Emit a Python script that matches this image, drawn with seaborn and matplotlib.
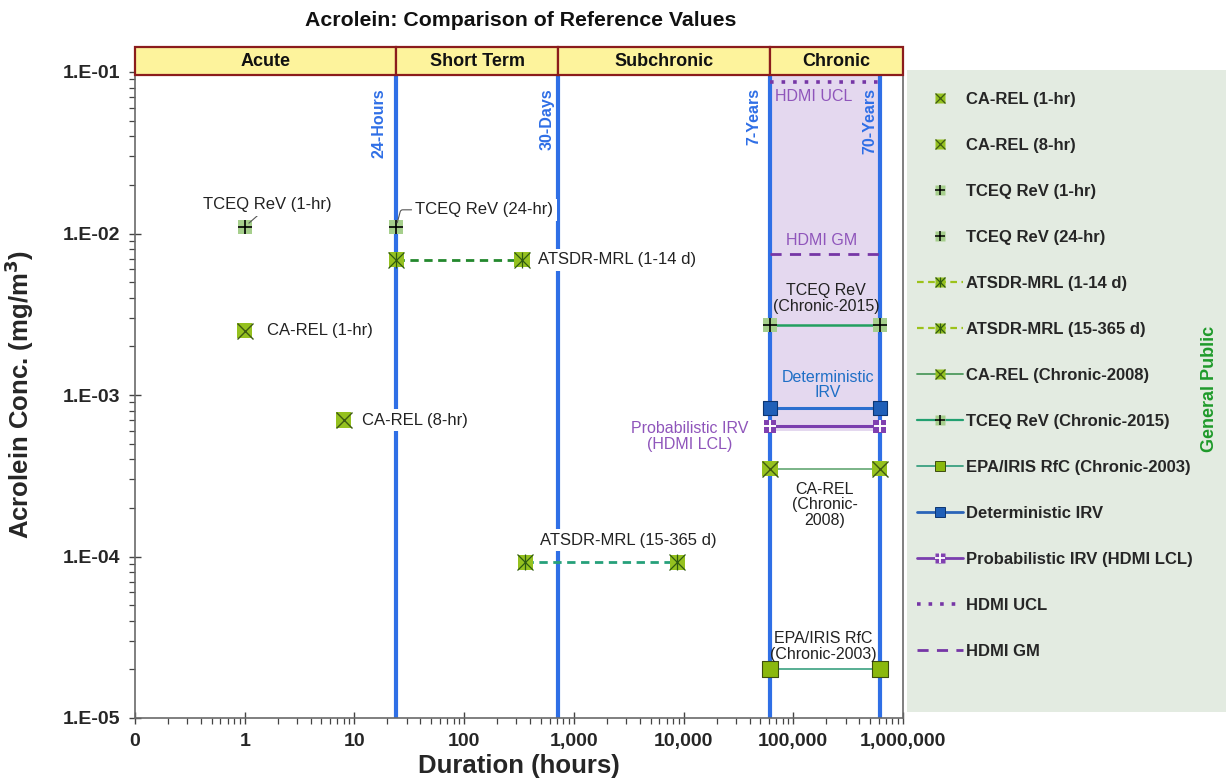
import numpy as np
import pandas as pd
import matplotlib
matplotlib.use("Agg")
import matplotlib.pyplot as plt
import matplotlib.ticker as mticker
from matplotlib.lines import Line2D
from matplotlib.patches import Rectangle
import seaborn as sns

sns.set_theme(style="white")
plt.rcParams["font.family"] = ["Liberation Sans", "DejaVu Sans"]

# ---------------- data ----------------
period_names = ["Acute", "Short Term", "Subchronic", "Chronic"]
period_edges = [0.1, 24, 720, 61320, 1e6]

boundary_hours = [24, 720, 61320, 613200]
boundary_labels = ["24-Hours", "30-Days", "7-Years", "70-Years"]

single_names = ["CA-REL (1-hr)", "CA-REL (8-hr)", "TCEQ ReV (1-hr)", "TCEQ ReV (24-hr)"]
single_hours = [1, 8, 1, 24]
single_conc = [0.0025, 0.0007, 0.011, 0.011]

atsdr_names = ["ATSDR-MRL (1-14 d)", "ATSDR-MRL (15-365 d)"]
atsdr_start = [24, 360]
atsdr_end = [336, 8760]
atsdr_conc = [0.0069, 0.000092]

chronic_span = [61320, 613200]
chronic_names = ["CA-REL (Chronic-2008)", "TCEQ ReV (Chronic-2015)",
                 "EPA/IRIS RfC (Chronic-2003)", "Deterministic IRV",
                 "Probabilistic IRV (HDMI LCL)", "HDMI UCL", "HDMI GM"]
chronic_conc = [0.00035, 0.0027, 0.00002, 0.00083, 0.00064, 0.087, 0.0075]
hdmi_band_floor = 0.0006

x_ticks = [0.1, 1, 10, 100, 1000, 10000, 100000, 1000000]
x_tick_labels = ["0", "1", "10", "100", "1,000", "10,000", "100,000", "1,000,000"]
y_ticks = [1e-5, 1e-4, 1e-3, 1e-2, 1e-1]
y_tick_labels = ["1.E-05", "1.E-04", "1.E-03", "1.E-02", "1.E-01"]

single = pd.DataFrame({"name": single_names, "hours": single_hours, "conc": single_conc})
ranges = pd.DataFrame({
    "name": atsdr_names * 2,
    "hours": atsdr_start + atsdr_end,
    "conc": atsdr_conc * 2,
})
chronic = pd.DataFrame({
    "name": np.repeat(chronic_names, 2),
    "hours": chronic_span * len(chronic_names),
    "conc": np.repeat(chronic_conc, 2),
})

# ---------------- styles ----------------
BLUE = "#2f6fe6"
YGREEN = "#95c11f"
LGREEN = "#a6cf8c"
PURPLE = "#7636a6"
LPURPLE = "#8f55bb"
DBLUE = "#1f5fb8"

W, H = 1226, 783
fig = plt.figure(figsize=(W / 100, H / 100), dpi=100)
fig.patch.set_facecolor("white")


def fx(px):
    return px / W


def fy(py):
    return 1 - py / H


ax = fig.add_axes([fx(135), fy(718), (903 - 135) / W, (718 - 72) / H])
ax.set_xscale("log")
ax.set_yscale("log")
ax.set_xlim(x_ticks[0], x_ticks[-1])
ax.set_ylim(y_ticks[0], y_ticks[-1])
ax.set_facecolor("white")

# chronic HDMI band
ax.fill_between(chronic_span, hdmi_band_floor, y_ticks[-1], color="#e4d8ef", lw=0, zorder=1)

# duration boundaries
label_dx = [-12.2, -7.9, -11.5, -7.2]
for h, lab, dx in zip(boundary_hours, boundary_labels, label_dx):
    ax.axvline(h, color=BLUE, lw=3, zorder=2)
    ax.annotate(lab, xy=(h, 1), xycoords=("data", "axes fraction"),
                xytext=(dx, -11.5), textcoords="offset points", rotation=90,
                ha="center", va="top", color=BLUE, fontweight="bold",
                fontsize=11.5, zorder=3)


def mark(df, face, glyphs=(), size=11, edge="none", z=6):
    sns.scatterplot(data=df, x="hours", y="conc", marker="s", s=size ** 2,
                    color=face, edgecolor=edge,
                    linewidth=0.8 if edge != "none" else 0,
                    ax=ax, zorder=z, legend=False)
    for g, c, lw in glyphs:
        ax.plot(df["hours"], df["conc"], ls="none", marker=g, ms=size,
                mec=c, mew=lw, zorder=z + 0.5)


def line(df, color, ls="-", lw=1.5, z=4):
    sns.lineplot(data=df, x="hours", y="conc", color=color, linestyle=ls,
                 lw=lw, estimator=None, sort=False, ax=ax, zorder=z, legend=False)


X_GLYPH = [("x", "#3e5a12", 1.0)]
PLUS_GLYPH = [("+", "black", 1.2)]
STAR_GLYPH = [("x", "#2f5a10", 0.9), ("|", "#2f5a10", 0.9)]

# ATSDR ranges
rng_colors = ["#23882d", "#26a07a"]
for name, col in zip(atsdr_names, rng_colors):
    d = ranges[ranges.name == name]
    line(d, col, ls=(0, (3, 2)), lw=2)
    mark(d, YGREEN, STAR_GLYPH, size=11)

# acute single values
mark(single[single.name.str.startswith("CA-REL")], YGREEN, X_GLYPH, size=11)
mark(single[single.name.str.startswith("TCEQ")], LGREEN, PLUS_GLYPH, size=10)

# chronic values
chronic_style = {
    "CA-REL (Chronic-2008)": dict(color="#6fae7e", ls="-", lw=1.3),
    "TCEQ ReV (Chronic-2015)": dict(color="#22a060", ls="-", lw=1.8),
    "EPA/IRIS RfC (Chronic-2003)": dict(color="#4aa88a", ls="-", lw=1.3),
    "Deterministic IRV": dict(color="#2a6fcf", ls="-", lw=2.2),
    "Probabilistic IRV (HDMI LCL)": dict(color="#7a3eae", ls="-", lw=2.2),
    "HDMI UCL": dict(color=PURPLE, ls=(0, (1, 2.2)), lw=2.6),
    "HDMI GM": dict(color=PURPLE, ls=(0, (4, 3)), lw=2),
}
for name in chronic_names:
    d = chronic[chronic.name == name]
    st = chronic_style[name]
    line(d, st["color"], ls=st["ls"], lw=st["lw"])

mark(chronic[chronic.name == "CA-REL (Chronic-2008)"], YGREEN, X_GLYPH, size=11)
mark(chronic[chronic.name == "TCEQ ReV (Chronic-2015)"], LGREEN, PLUS_GLYPH, size=10)
mark(chronic[chronic.name == "EPA/IRIS RfC (Chronic-2003)"], "#8ab80e", size=11, edge="#3d4d10")
mark(chronic[chronic.name == "Deterministic IRV"], DBLUE, size=10, edge="#0d3570")
mark(chronic[chronic.name == "Probabilistic IRV (HDMI LCL)"], "#8040b0",
     [("+", "white", 1.4)], size=9)

# ---------------- annotations ----------------
box = dict(facecolor="white", edgecolor="none", pad=2.5)
TXT = "#222222"


def note(text, x, y, dx, dy, ha="left", va="center", size=12, color=TXT, bbox=box, **kw):
    ax.annotate(text, xy=(x, y), xytext=(dx / 1.389, -dy / 1.389),
                textcoords="offset points", ha=ha, va=va, fontsize=size,
                color=color, bbox=bbox, zorder=8, linespacing=1.05, **kw)


note("TCEQ ReV (1-hr)", single_hours[2], single_conc[2], 23, -22, ha="center",
     arrowprops=dict(arrowstyle="-", color="#555555", lw=0.8, relpos=(0.45, 0.0),
                     shrinkA=0, shrinkB=4))
note("TCEQ ReV (24-hr)", single_hours[3], single_conc[3], 19, -17,
     arrowprops=dict(arrowstyle="-", color="#555555", lw=0.8, relpos=(0.0, 0.5),
                     shrinkA=0, shrinkB=3,
                     connectionstyle="angle,angleA=0,angleB=75,rad=2"))
note("CA-REL (1-hr)", single_hours[0], single_conc[0], 22, 0)
note("CA-REL (8-hr)", single_hours[1], single_conc[1], 18, 0)
note("ATSDR-MRL (1-14 d)", atsdr_end[0], atsdr_conc[0], 16, 0)
note("ATSDR-MRL (15-365 d)", atsdr_end[1], atsdr_conc[1], -49, -22, ha="center")

mid = float(np.sqrt(chronic_span[0] * chronic_span[1]))
cc = dict(zip(chronic_names, chronic_conc))
note("HDMI UCL", chronic_span[0], cc["HDMI UCL"], 5, 15, size=11.5, color=LPURPLE, bbox=None)
note("HDMI GM", mid, cc["HDMI GM"], -3, -13, ha="center", size=11.5, color=LPURPLE, bbox=None)
note("TCEQ ReV\n(Chronic-2015)", mid, cc["TCEQ ReV (Chronic-2015)"], 1, -27,
     ha="center", size=11.5, bbox=None)
note("Deterministic\nIRV", mid, cc["Deterministic IRV"], 3, -23, ha="center",
     size=11.5, color="#1f6fc6", bbox=None)
note("Probabilistic IRV\n(HDMI LCL)", chronic_span[0], cc["Probabilistic IRV (HDMI LCL)"],
     -80, 10, ha="center", size=11.5, color=LPURPLE, bbox=None)
note("CA-REL\n(Chronic-\n2008)", mid, cc["CA-REL (Chronic-2008)"], 0, 36, ha="center",
     size=11.5, bbox=None)
note("EPA/IRIS RfC\n(Chronic-2003)", mid, cc["EPA/IRIS RfC (Chronic-2003)"], -2, -23,
     ha="center", size=11.5, bbox=None)

# ---------------- axes styling ----------------
ax.xaxis.set_major_locator(mticker.FixedLocator(x_ticks))
ax.xaxis.set_major_formatter(mticker.FixedFormatter(x_tick_labels))
ax.yaxis.set_major_locator(mticker.FixedLocator(y_ticks))
ax.yaxis.set_major_formatter(mticker.FixedFormatter(y_tick_labels))
ax.xaxis.set_minor_locator(mticker.LogLocator(base=10, subs=np.arange(2, 10)))
ax.yaxis.set_minor_locator(mticker.LogLocator(base=10, subs=np.arange(2, 10)))
ax.xaxis.set_minor_formatter(mticker.NullFormatter())
ax.yaxis.set_minor_formatter(mticker.NullFormatter())
ax.tick_params(which="major", direction="inout", length=9, width=1, color="#444444",
               labelsize=14, pad=6, bottom=True, left=True)
ax.tick_params(which="minor", direction="out", length=4, width=0.9, color="#444444",
               bottom=True, left=True)
for lab in ax.get_xticklabels() + ax.get_yticklabels():
    lab.set_fontweight("bold")
for side in ["left", "bottom", "right"]:
    ax.spines[side].set_color("#6a6a6a")
    ax.spines[side].set_linewidth(1.2)
ax.spines["top"].set_visible(False)
ax.grid(False)

ax.set_xlabel("Duration (hours)", fontsize=18.5, fontweight="bold", labelpad=3)
ax.set_ylabel("Acrolein Conc. (mg/m$^\\mathbf{3}$)", fontsize=18.5, fontweight="bold")
ax.yaxis.set_label_coords((36 - 135) / 768, 0.5)

# period header band
hax = fig.add_axes([fx(135), fy(75), 768 / W, 28 / H])
hax.set_xscale("log")
hax.set_xlim(period_edges[0], period_edges[-1])
hax.set_ylim(0, 1)
hax.axis("off")
for name, x0, x1 in zip(period_names, period_edges[:-1], period_edges[1:]):
    hax.axvspan(x0, x1, 0, 1, facecolor="#fdf39c", edgecolor="#8b1c1c", lw=1.6, clip_on=False)
    hax.text(np.sqrt(x0 * x1), 0.5, name, ha="center", va="center", fontsize=13,
             fontweight="bold", color="#111111")

fig.text(fx(521), fy(21), "Acrolein: Comparison of Reference Values", ha="center",
         va="center", fontsize=15.3, fontweight="bold", color="#111111")

# ---------------- legend panel ----------------
fig.add_artist(Rectangle((fx(907), fy(712)), (W - 907) / W, (712 - 70) / H,
                         transform=fig.transFigure, facecolor="#e3ebe1",
                         edgecolor="none", zorder=0))


def sq(face, edge="none", line_color="none", ls="none", lw=1.5, ms=7.5):
    return Line2D([], [], color=line_color, ls=ls, lw=lw, marker="s", ms=ms,
                  mfc=face, mec=edge, mew=0.7)


def glyph(g, c, lw, ms=7.5):
    return Line2D([], [], ls="none", marker=g, ms=ms, mec=c, mew=lw)


handles = [
    (sq(YGREEN), glyph("x", "#3e5a12", 0.9)),
    (sq(YGREEN), glyph("x", "#3e5a12", 0.9)),
    (sq(LGREEN), glyph("+", "black", 1.1)),
    (sq(LGREEN), glyph("+", "black", 1.1)),
    (sq(YGREEN, line_color="#9cc21a", ls=(0, (3, 2)), lw=1.6),
     glyph("x", "#2f5a10", 0.9), glyph("|", "#2f5a10", 0.9)),
    (sq(YGREEN, line_color="#9cc21a", ls=(0, (3, 2)), lw=1.6),
     glyph("x", "#2f5a10", 0.9), glyph("|", "#2f5a10", 0.9)),
    (sq(YGREEN, line_color="#4e9a5e", ls="-", lw=1.3), glyph("x", "#3e5a12", 0.9)),
    (sq(LGREEN, line_color="#22a070", ls="-", lw=1.6), glyph("+", "black", 1.1)),
    sq("#8ab80e", edge="#3d4d10", line_color="#3aa080", ls="-", lw=1.3),
    sq(DBLUE, edge="#0d3570", line_color="#2a64b8", ls="-", lw=2),
    (sq("#8040b0", line_color="#7a3eae", ls="-", lw=2), glyph("+", "white", 1.3)),
    Line2D([], [], color=PURPLE, ls=(0, (1, 2.2)), lw=2.6),
    Line2D([], [], color=PURPLE, ls=(0, (4, 3)), lw=2),
]
labels = ["CA-REL (1-hr)", "CA-REL (8-hr)", "TCEQ ReV (1-hr)", "TCEQ ReV (24-hr)",
          "ATSDR-MRL (1-14 d)", "ATSDR-MRL (15-365 d)", "CA-REL (Chronic-2008)",
          "TCEQ ReV (Chronic-2015)", "EPA/IRIS RfC (Chronic-2003)", "Deterministic IRV",
          "Probabilistic IRV (HDMI LCL)", "HDMI UCL", "HDMI GM"]
fig.legend(handles, labels, loc="upper left", bbox_to_anchor=(fx(917), fy(92)),
           frameon=False, prop=dict(size=12, weight="bold"), handlelength=2.75,
           handletextpad=0.22, labelspacing=1.86, borderpad=0, borderaxespad=0)

fig.text(fx(1209), fy(389), "General Public", rotation=90, ha="center", va="center",
         fontsize=13, fontweight="bold", color="#1e9a2a")

fig.savefig("out.png", dpi=100)
